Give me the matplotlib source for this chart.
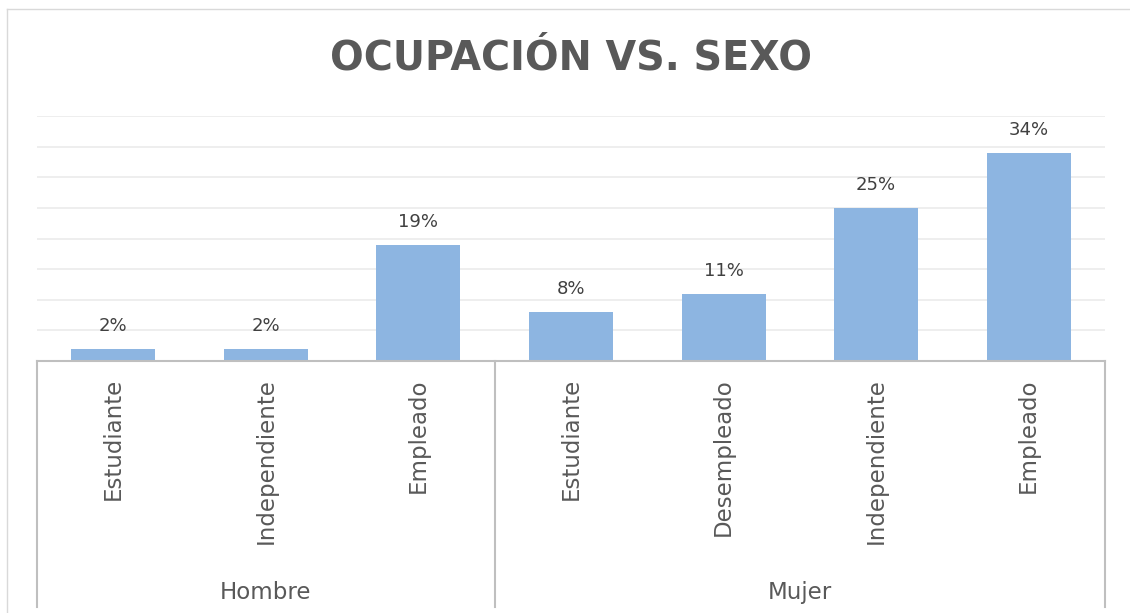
import matplotlib.pyplot as plt
import matplotlib.transforms as mtransforms
from matplotlib.lines import Line2D

# data
categories = ["Estudiante", "Independiente", "Empleado",
              "Estudiante", "Desempleado", "Independiente", "Empleado"]
values = [2, 2, 19, 8, 11, 25, 34]
groups = ["Hombre", "Mujer"]
group_sizes = [3, 4]

bar_color = "#8DB5E1"
text_gray = "#595959"
line_gray = "#BFBFBF"

fig = plt.figure(figsize=(11.3, 6.13), dpi=100)
ax = fig.add_axes([37 / 1130, 1 - 361 / 613, (1105 - 37) / 1130, (361 - 116) / 613])

x = list(range(len(values)))
ax.bar(x, values, width=0.55, color=bar_color, zorder=2)
for xi, v in zip(x, values):
    ax.annotate(f"{v}%", (xi, v), xytext=(0, 10), textcoords="offset points",
                ha="center", va="bottom", fontsize=13, color="#404040")

ax.set_xlim(-0.5, len(values) - 0.5)
ax.set_ylim(0, 40)
ax.set_yticks(range(0, 41, 5))
ax.yaxis.grid(True, color="#EBEBEB", lw=1.2, zorder=0)
ax.tick_params(left=False, labelleft=False, bottom=False, labelbottom=False)
for s in ["top", "right", "left"]:
    ax.spines[s].set_visible(False)
ax.spines["bottom"].set_color(line_gray)
ax.spines["bottom"].set_linewidth(1.5)

trans = mtransforms.blended_transform_factory(ax.transData, ax.transAxes)

# category labels
for xi, c in zip(x, categories):
    ax.text(xi, -0.07, c, transform=trans, rotation=90, ha="center", va="top",
            fontsize=16.5, color=text_gray)

# group separators and labels
bounds = [-0.5]
for n in group_sizes:
    bounds.append(bounds[-1] + n)
for b in bounds:
    ax.plot([b, b], [0, -1.004], transform=trans, color=line_gray, lw=1.5, clip_on=False)
for g, a, b in zip(groups, bounds[:-1], bounds[1:]):
    ax.text((a + b) / 2, -0.943, g, transform=trans, ha="center", va="center",
            fontsize=16.5, color=text_gray)

fig.suptitle("OCUPACIÓN VS. SEXO", x=571 / 1130, y=1 - 58 / 613, va="center",
             fontsize=28.5, fontweight="bold", color=text_gray)

# chart frame
fig.add_artist(Line2D([7 / 1130, 7 / 1130], [0, 1 - 9 / 613], transform=fig.transFigure,
                      color="#D9D9D9", lw=1))
fig.add_artist(Line2D([7 / 1130, 1], [1 - 9 / 613, 1 - 9 / 613], transform=fig.transFigure,
                      color="#D9D9D9", lw=1))

fig.savefig("out.png", dpi=100)
